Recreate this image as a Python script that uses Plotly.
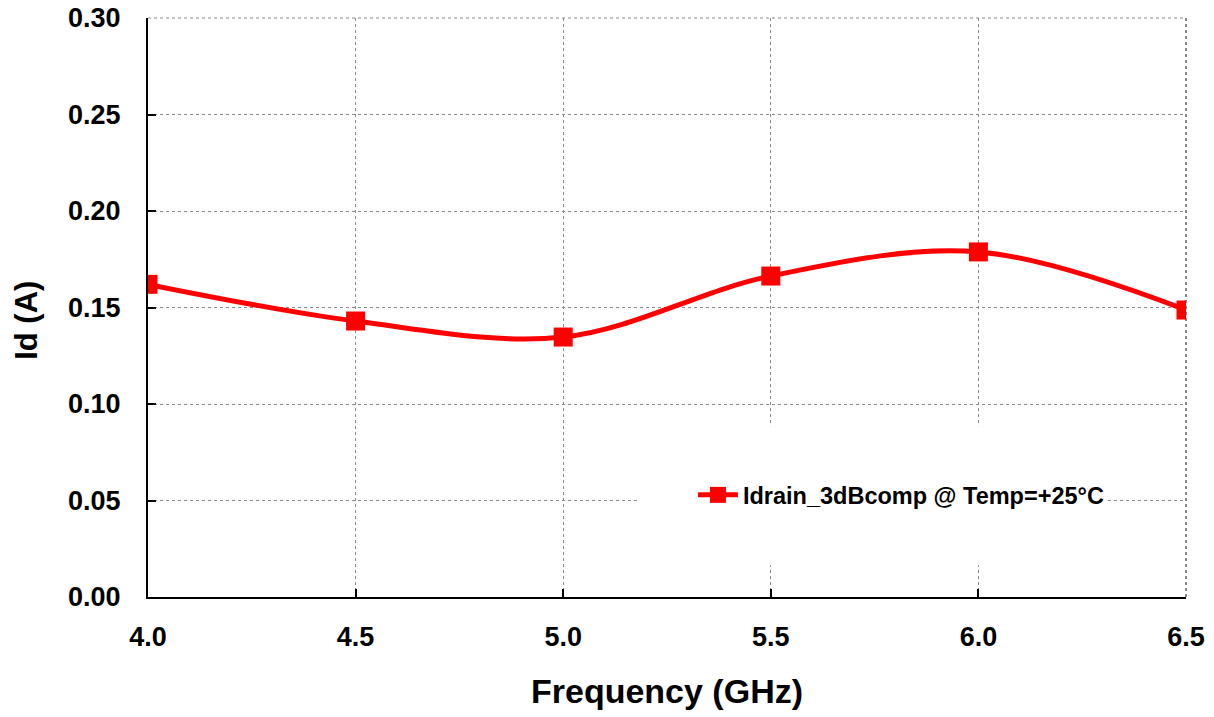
import plotly.graph_objects as go

freq_ghz = [4.0, 4.5, 5.0, 5.5, 6.0, 6.5]
idrain_a = [0.162, 0.143, 0.1347, 0.1663, 0.1788, 0.1487]
series_name = "Idrain_3dBcomp @ Temp=+25°C"
x_ticks = [4.0, 4.5, 5.0, 5.5, 6.0, 6.5]
x_ticklabels = ["4.0", "4.5", "5.0", "5.5", "6.0", "6.5"]
y_ticks = [0.00, 0.05, 0.10, 0.15, 0.20, 0.25, 0.30]
y_ticklabels = ["0.00", "0.05", "0.10", "0.15", "0.20", "0.25", "0.30"]
x_title = "Frequency (GHz)"
y_title = "Id (A)"

FONT = "Liberation Sans, Arial, sans-serif"
RED = "#ff0000"
GRID = "#888888"

fig = go.Figure()
fig.add_trace(go.Scatter(
    x=freq_ghz, y=idrain_a, name=series_name,
    mode="lines+markers",
    line=dict(color=RED, width=5, shape="spline", smoothing=1.0),
    marker=dict(symbol="square", size=19, color=RED),
))

# white box behind legend (hides gridlines like the reference)
fig.add_shape(type="rect", xref="paper", yref="paper",
              x0=0.473, x1=0.924, y0=0.055, y1=0.295,
              fillcolor="white", line=dict(width=0), layer="above")
# edge gridlines (top and right) that plotly omits
fig.add_shape(type="line", xref="paper", yref="paper", x0=0, x1=1, y0=1, y1=1,
              line=dict(color=GRID, width=1, dash="dot"), layer="below")
fig.add_shape(type="line", xref="paper", yref="paper", x0=1, x1=1, y0=0, y1=1,
              line=dict(color=GRID, width=2, dash="dot"), layer="below")

fig.add_annotation(text=y_title, xref="paper", yref="paper", x=0, y=0.477,
                   xshift=-121, textangle=-90, showarrow=False,
                   xanchor="center", yanchor="middle",
                   font=dict(family=FONT, size=31, color="black", weight="bold"))

fig.update_layout(
    template="none",
    width=1214, height=717,
    margin=dict(l=148, r=28, t=18, b=120, autoexpand=False),
    paper_bgcolor="white", plot_bgcolor="white",
    font=dict(family=FONT, color="black"),
    showlegend=True,
    hovermode=False,
    legend=dict(x=0.525, y=0.176, xanchor="left", yanchor="middle",
                bgcolor="rgba(255,255,255,0)", borderwidth=0,
                font=dict(family=FONT, size=23.5, color="black", weight="bold"),
                itemwidth=40),
    xaxis=dict(
        range=[4.0, 6.5], tickvals=x_ticks, ticktext=x_ticklabels,
        showgrid=True, gridcolor=GRID, griddash="dot", gridwidth=1,
        showline=True, linecolor="black", linewidth=2,
        ticks="inside", ticklen=8, tickwidth=2, tickcolor="black",
        ticklabelstandoff=15, automargin=False, ticklabeloverflow="allow",
        tickfont=dict(family=FONT, size=27, color="black", weight="bold"),
        title=dict(text=x_title, standoff=28,
                   font=dict(family=FONT, size=34, color="black", weight="bold")),
        zeroline=False, fixedrange=True,
    ),
    yaxis=dict(
        range=[0, 0.30], tickvals=y_ticks, ticktext=y_ticklabels,
        showgrid=True, gridcolor=GRID, griddash="dot", gridwidth=1,
        showline=True, linecolor="black", linewidth=2,
        ticks="inside", ticklen=8, tickwidth=2, tickcolor="black",
        ticklabelstandoff=20, automargin=False, ticklabeloverflow="allow",
        tickfont=dict(family=FONT, size=27, color="black", weight="bold"),
        zeroline=False, fixedrange=True,
    ),
)

fig.write_html("out.html",
               config={"displayModeBar": False},
               post_script="document.body.style.margin='0';document.body.style.overflow='hidden';")
